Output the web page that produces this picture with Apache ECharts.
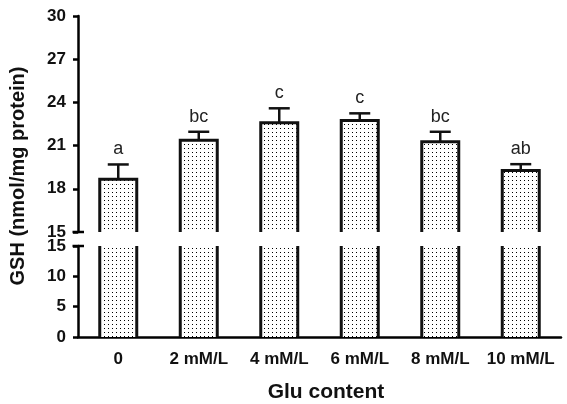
<!DOCTYPE html>
<html><head><meta charset="utf-8">
<script src="https://cdn.jsdelivr.net/npm/echarts@6/dist/echarts.min.js"></script>
<style>html,body{margin:0;padding:0;background:#fff}#c{width:567px;height:404px}</style>
</head><body><div id="c"></div>
<script>
const categories = ['0', '2 mM/L', '4 mM/L', '6 mM/L', '8 mM/L', '10 mM/L'];
const gshMean = [18.67, 21.38, 22.59, 22.75, 21.26, 19.27];
const gshErr = [1.02, 0.58, 1.00, 0.49, 0.70, 0.44];
const sigLetters = ['a', 'bc', 'c', 'c', 'bc', 'ab'];
const upperAxis = { min: 15, max: 30, interval: 3 };
const lowerAxis = { min: 0, max: 15, interval: 5 };

const FONT = 'Liberation Sans, Arial, sans-serif';
const BAR_W = 37;
const chart = echarts.init(document.getElementById('c'), null, { renderer: 'canvas' });

const axisLineStyle = { color: '#000', width: 2.5 };
function yAxisCfg(grid, rng) {
  return {
    gridIndex: grid, type: 'value', min: rng.min, max: rng.max, interval: rng.interval,
    axisLine: { show: true, lineStyle: axisLineStyle },
    axisTick: { show: true, length: 5, lineStyle: axisLineStyle },
    splitLine: { show: false },
    axisLabel: { color: '#111', fontWeight: 'bold', fontSize: 17, fontFamily: FONT, margin: 12 }
  };
}
const decal = { symbol: 'rect', symbolSize: 1, dashArrayX: [1, 3], dashArrayY: [1, 3], color: '#000' };
function barSeries(idx) {
  return {
    type: 'bar', xAxisIndex: idx, yAxisIndex: idx, data: gshMean, barWidth: BAR_W, silent: true,
    itemStyle: { color: '#fff', decal: decal, borderWidth: 0 }, clip: true, z: 2
  };
}
const pts = gshMean.map((v, i) => [i, v, gshErr[i]]);

chart.setOption({
  animation: false,
  grid: [
    { left: 78, right: 6, top: 16, height: 216 },
    { left: 78, right: 6, top: 246, height: 91 }
  ],
  xAxis: [
    { gridIndex: 0, type: 'category', data: categories, show: false },
    { gridIndex: 1, type: 'category', data: categories,
      axisLine: { lineStyle: axisLineStyle },
      axisTick: { alignWithLabel: true, length: 5, lineStyle: axisLineStyle },
      axisLabel: { interval: 0, color: '#111', fontWeight: 'bold', fontSize: 17, fontFamily: FONT, margin: 14 } }
  ],
  yAxis: [yAxisCfg(0, upperAxis), yAxisCfg(1, lowerAxis)],
  series: [
    barSeries(0), barSeries(1),
    { type: 'custom', xAxisIndex: 0, yAxisIndex: 0, data: pts, z: 4, silent: true, clip: false,
      renderItem: function (params, api) {
        const i = api.value(0), v = api.value(1);
        const top = api.coord([i, v]);
        const base = api.coord([i, upperAxis.min]);
        const h = BAR_W / 2;
        return { type: 'polyline', shape: { points: [[top[0] - h, base[1]], [top[0] - h, top[1]], [top[0] + h, top[1]], [top[0] + h, base[1]]] },
          style: { stroke: '#111', lineWidth: 3, fill: null } };
      } },
    { type: 'custom', xAxisIndex: 1, yAxisIndex: 1, data: pts, z: 4, silent: true, clip: false,
      renderItem: function (params, api) {
        const i = api.value(0);
        const b = api.coord([i, lowerAxis.min]);
        const t = api.coord([i, lowerAxis.max]);
        const h = BAR_W / 2;
        return { type: 'group', children: [
          { type: 'line', shape: { x1: b[0] - h, y1: b[1], x2: t[0] - h, y2: t[1] }, style: { stroke: '#111', lineWidth: 3 } },
          { type: 'line', shape: { x1: b[0] + h, y1: b[1], x2: t[0] + h, y2: t[1] }, style: { stroke: '#111', lineWidth: 3 } }
        ] };
      } },
    { type: 'custom', xAxisIndex: 0, yAxisIndex: 0, data: pts, z: 5, silent: true, clip: false,
      renderItem: function (params, api) {
        const i = api.value(0), v = api.value(1), e = api.value(2);
        const top = api.coord([i, v]);
        const cap = api.coord([i, v + e]);
        return { type: 'group', children: [
          { type: 'line', shape: { x1: top[0], y1: top[1], x2: cap[0], y2: cap[1] }, style: { stroke: '#111', lineWidth: 2.5 } },
          { type: 'line', shape: { x1: cap[0] - 10.5, y1: cap[1], x2: cap[0] + 10.5, y2: cap[1] }, style: { stroke: '#111', lineWidth: 2.5 } },
          { type: 'text', style: { text: sigLetters[params.dataIndex], x: cap[0], y: cap[1] - 6, align: 'center', verticalAlign: 'bottom',
            fontSize: 18, fontFamily: FONT, fill: '#222' } }
        ] };
      } }
  ],
  graphic: [
    { type: 'line', shape: { x1: 72.5, y1: 232, x2: 84, y2: 232 }, style: { stroke: '#000', lineWidth: 2.5 } },
    { type: 'line', shape: { x1: 72.5, y1: 246, x2: 84, y2: 246 }, style: { stroke: '#000', lineWidth: 2.5 } },
    { type: 'text', x: 18, y: 176, rotation: Math.PI / 2,
      style: { text: 'GSH (nmol/mg protein)', align: 'center', verticalAlign: 'middle', font: 'bold 20px ' + FONT, fill: '#111' } },
    { type: 'text', x: 326, y: 392,
      style: { text: 'Glu content', align: 'center', verticalAlign: 'middle', font: 'bold 21px ' + FONT, fill: '#111' } }
  ]
});
</script></body></html>
